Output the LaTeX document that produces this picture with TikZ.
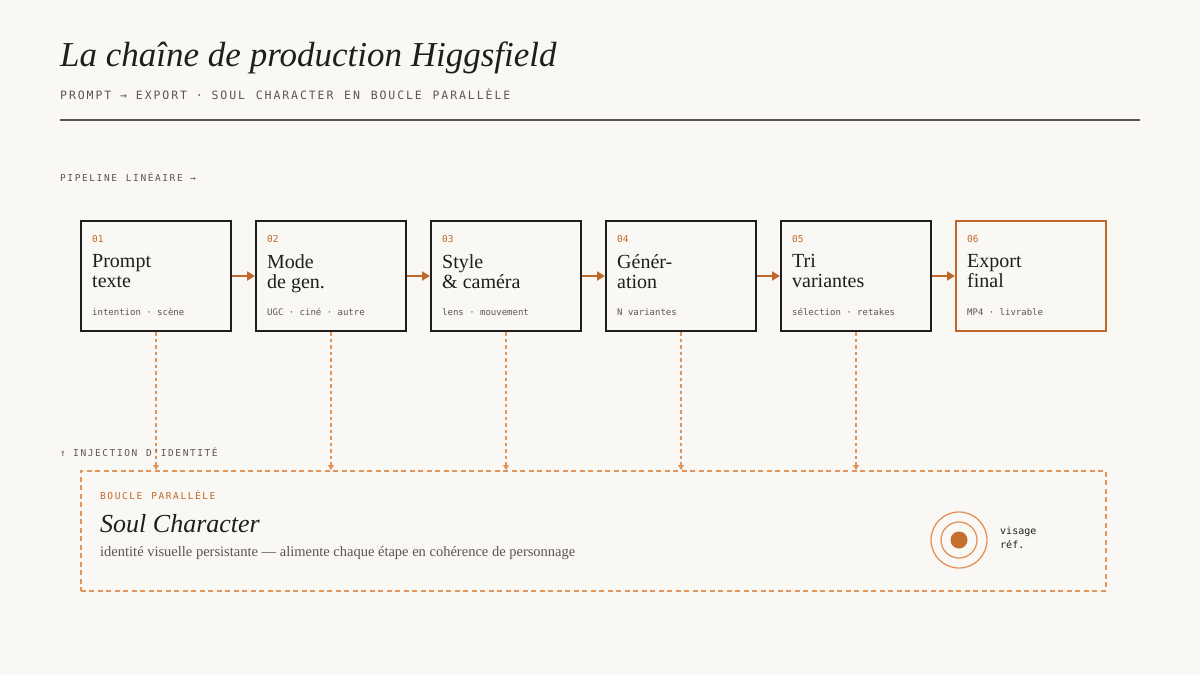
\documentclass[tikz,border=0pt]{standalone}
\usepackage{fontspec}
\setmainfont{Liberation Serif}
\newfontfamily\mono{DejaVu Sans Mono}
\usetikzlibrary{arrows.meta}
\definecolor{bg}{HTML}{FAF8F4}
\definecolor{ink}{HTML}{1E1E1E}
\definecolor{org}{HTML}{C0682A}
\definecolor{lorg}{HTML}{E0955C}
\definecolor{gry}{HTML}{5A5550}
\begin{document}
\begin{tikzpicture}[x=1pt,y=-1pt,
  stage/.style={draw=ink,line width=2pt,minimum width=150pt,minimum height=110pt,anchor=north west,inner sep=0},
  flow/.style={draw=org,line width=2.2pt,-{Triangle[length=8pt,width=9pt]}},
  inj/.style={draw=lorg,line width=1.6pt,dash pattern=on 3.5pt off 3pt,-{Triangle[length=5pt,width=6pt]}},
  num/.style={anchor=west,font=\mono\fontsize{9.5}{9.5}\selectfont,text=org},
  ttl/.style={anchor=north west,align=left,font=\fontsize{20}{20}\selectfont,text=ink,inner sep=0},
  sub/.style={anchor=west,font=\mono\fontsize{9}{9}\selectfont,text=gry},
  lbl/.style={anchor=west,font=\mono\fontsize{9.5}{9.5}\selectfont,text=gry}]
\fill[bg] (0,0) rectangle (1200,675);
\useasboundingbox (0,0) rectangle (1200,675);
\node[anchor=west,inner sep=0,font=\itshape\fontsize{35}{35}\selectfont,text=ink] (title) at (60,58) {La chaîne de production Higgsfield};
\node[lbl,inner sep=0,font=\mono\fontsize{11.5}{11.5}\selectfont] (subt) at (60,94) {P\,R\,O\,M\,P\,T\, → \,E\,X\,P\,O\,R\,T\, · \,S\,O\,U\,L\, \,C\,H\,A\,R\,A\,C\,T\,E\,R\, \,E\,N\, \,B\,O\,U\,C\,L\,E\, \,P\,A\,R\,A\,L\,L\,È\,L\,E};
\draw[gry,line width=1.4pt] (60,120) -- (1140,120);
\node[lbl,inner sep=0] (pl) at (60,177) {P\,I\,P\,E\,L\,I\,N\,E\, \,L\,I\,N\,É\,A\,I\,R\,E\, →};
\foreach \i/\x/\n/\t/\s/\c in {1/80/01/{Prompt\\texte}/{intention · scène}/ink,
  2/255/02/{Mode\\de gen.}/{UGC · ciné · autre}/ink,
  3/430/03/{Style\\\& caméra}/{lens · mouvement}/ink,
  4/605/04/{Génér-\\ation}/{N variantes}/ink,
  5/780/05/{Tri\\variantes}/{sélection · retakes}/ink,
  6/955/06/{Export\\final}/{MP4 · livrable}/org}{
  \node[stage,draw=\c] (b\i) at (\x,220) {};
  \node[num,inner sep=0] (n\i) at (\x+12,239) {\n};
  \node[ttl] (t\i) at (\x+12,254) {\t};
  \node[sub,inner sep=0] (s\i) at (\x+12,312) {\s};
}
\foreach \a/\b in {1/2,2/3,3/4,4/5,5/6}{\draw[flow] (b\a.east) -- (b\b.west);}
\node[draw=lorg,line width=1.8pt,dash pattern=on 5pt off 3.5pt,minimum width=1025pt,minimum height=120pt,anchor=north west,inner sep=0] (loop) at (80,470) {};
\foreach \i in {1,...,5}{\coordinate (e\i) at (b\i.south |- loop.north); \draw[inj] (b\i.south) -- (e\i);}
\node[lbl,inner sep=0] (ij) at (60,452) {↑ \,I\,N\,J\,E\,C\,T\,I\,O\,N\, \,D\,'\,I\,D\,E\,N\,T\,I\,T\,É};
\node[num,inner sep=0] (bp) at (100,495) {B\,O\,U\,C\,L\,E\, \,P\,A\,R\,A\,L\,L\,È\,L\,E};
\node[anchor=west,inner sep=0,font=\itshape\fontsize{26}{26}\selectfont,text=ink] (sc) at (100,524) {Soul Character};
\node[anchor=west,inner sep=0,font=\fontsize{14.5}{14.5}\selectfont,text=gry] (desc) at (100,553) {identité visuelle persistante — alimente chaque étape en cohérence de personnage};
\draw[lorg,line width=1.3pt] (959,540) circle (28);
\draw[lorg,line width=1.3pt] (959,540) circle (18);
\fill[org!85!lorg] (959,540) circle (8.5);
\node[anchor=north west,align=left,inner sep=0,font=\mono\fontsize{10}{14}\selectfont,text=ink] (vr) at (1000,527) {visage\\réf.};
\end{tikzpicture}
\end{document}
